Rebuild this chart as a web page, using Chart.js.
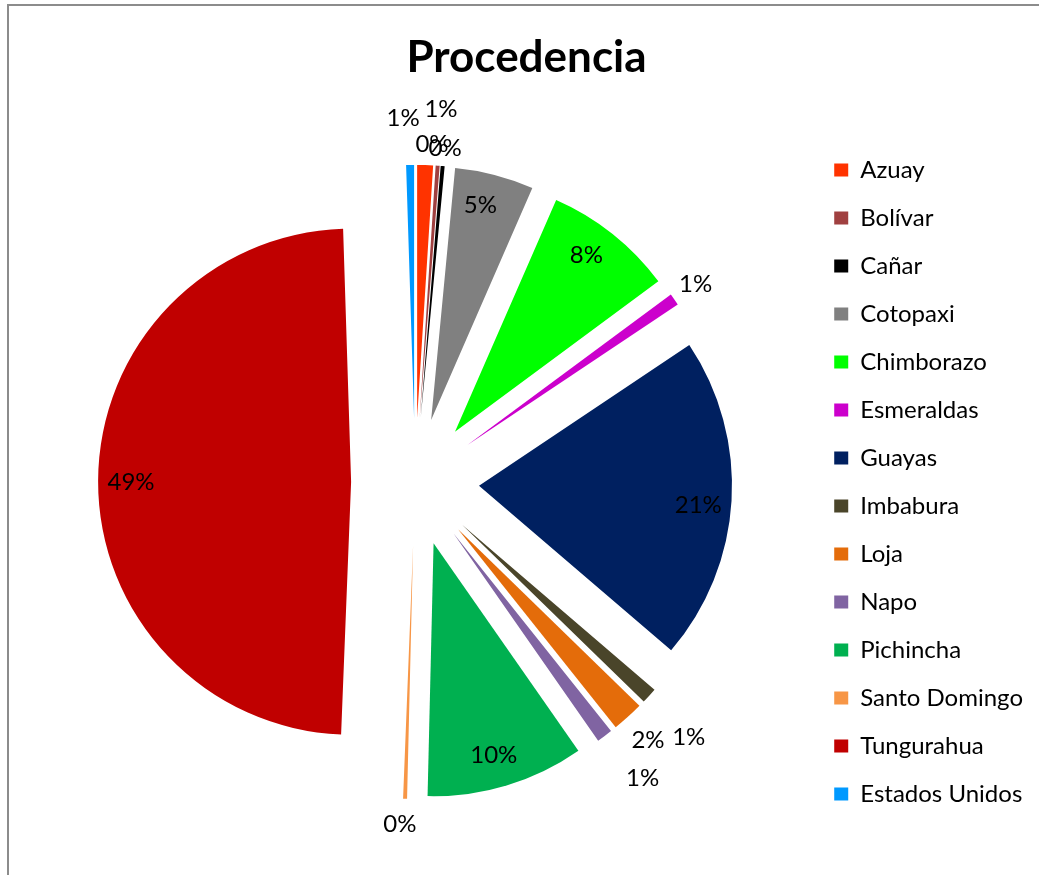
<!DOCTYPE html>
<html>
<head>
<meta charset="utf-8">
<script src="https://cdn.jsdelivr.net/npm/chart.js@4.4.1/dist/chart.umd.min.js"></script>
<style>
	html, body { margin: 0; padding: 0; background: #fff; overflow: hidden; }
	.frame {
		position: absolute; left: 7px; top: 4px;
		border-left: 2px solid #8c8c8c; border-top: 2px solid #8c8c8c;
	}
	canvas { display: block; }
</style>
</head>
<body>
<div class="frame">
	<canvas id="pieProcedencia" width="1040" height="869"></canvas>
</div>
<script>
// datos del gráfico
const provincias = ['Azuay', 'Bolívar', 'Cañar', 'Cotopaxi', 'Chimborazo', 'Esmeraldas', 'Guayas',
	'Imbabura', 'Loja', 'Napo', 'Pichincha', 'Santo Domingo', 'Tungurahua', 'Estados Unidos'];
const cantidades = [4, 1, 1, 20, 33, 3, 82, 4, 8, 4, 40, 1, 194, 2];

const colores = ['#FF3300', '#A04040', '#000000', '#808080', '#00FF00', '#CC00CC', '#002060',
	'#4A452A', '#E46C0A', '#8064A2', '#00B050', '#F79646', '#C00000', '#0099FF'];

// estilo de las etiquetas: distancia extra fuera del sector y giro (grados)
const etiquetaExtra = [57, 21, 18, 0, 0, 26, 0, 57, 31, 57, 0, 26, 0, 47];
const etiquetaGiro = [2.6, -1.5, 0.2, -1.6, -1.9, 0, 1.6, 0.7, 0.2, -0.9, 0.9, 0.9, -0.4, -1.2];

const RADIO = 253;
const EXPLOSION = 64;

/**
 * separa cada sector del centro (como en Excel)
 */
const explotarSectores = {
	id: 'explotarSectores',
	afterDatasetUpdate(chart, args) {
		args.meta.data.forEach(arc => {
			const mid = (arc.startAngle + arc.endAngle) / 2;
			arc.x += Math.cos(mid) * EXPLOSION;
			arc.y += Math.sin(mid) * EXPLOSION;
		});
	}
};

/**
 * etiquetas de porcentaje
 */
const etiquetasPorcentaje = {
	id: 'etiquetasPorcentaje',
	afterDatasetsDraw(chart) {
		const ctx = chart.ctx;
		const meta = chart.getDatasetMeta(0);
		const total = cantidades.reduce((a, b) => a + b, 0);
		ctx.save();
		ctx.font = '24px Lato';
		ctx.fillStyle = '#000';
		ctx.textAlign = 'center';
		ctx.textBaseline = 'middle';
		meta.data.forEach((arc, i) => {
			const frac = cantidades[i] / total;
			let ang = (arc.startAngle + arc.endAngle) / 2 + etiquetaGiro[i] * Math.PI / 180;
			let r = frac >= 0.04 ? arc.outerRadius * 0.87 : arc.outerRadius + etiquetaExtra[i];
			const x = arc.x + Math.cos(ang) * r;
			const y = arc.y + Math.sin(ang) * r;
			ctx.fillText(Math.round(frac * 100) + '%', x, y);
		});
		ctx.restore();
	}
};

Chart.defaults.font.family = 'Lato';
Chart.defaults.color = '#000';

let config = {
	type: 'pie',
	data: {
		labels: provincias,
		datasets: [{
			data: cantidades,
			backgroundColor: colores,
			borderWidth: 0
		}]
	},
	options: {
		responsive: false,
		animation: false,
		events: [],
		radius: RADIO,
		layout: {
			padding: { left: 11, right: 16, top: 0, bottom: 7 }
		},
		plugins: {
			title: {
				display: true,
				text: 'Procedencia',
				font: { size: 44, weight: 'bold' },
				color: '#000',
				padding: { top: 25, bottom: 12 }
			},
			legend: {
				position: 'right',
				align: 'center',
				fullSize: false,
				labels: {
					boxWidth: 14,
					boxHeight: 13,
					padding: 24,
					font: { size: 24 },
					color: '#000'
				}
			},
			tooltip: { enabled: false }
		}
	},
	plugins: [explotarSectores, etiquetasPorcentaje]
};

new Chart(document.getElementById('pieProcedencia'), config);
</script>
</body>
</html>
